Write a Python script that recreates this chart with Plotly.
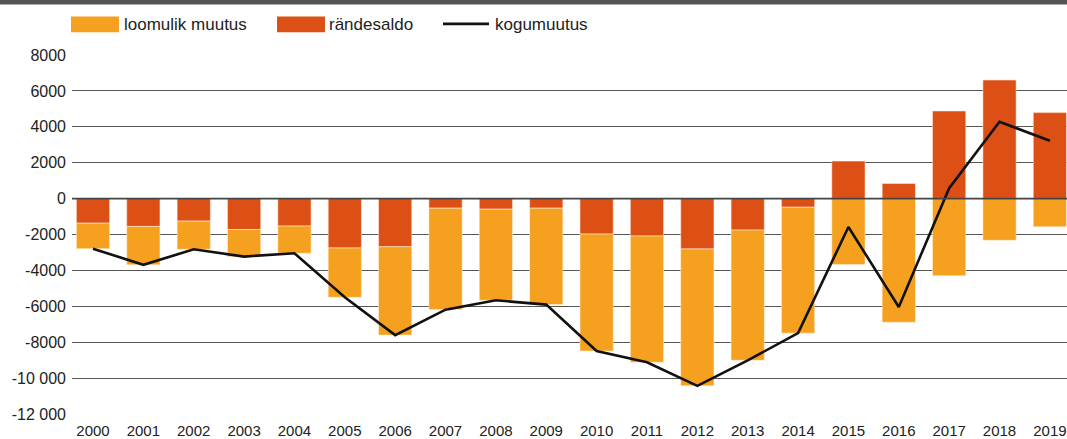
import plotly.graph_objects as go

years = [str(y) for y in range(2000, 2020)]
randesaldo = [-1370, -1550, -1255, -1720, -1530, -2750, -2680, -535, -590, -535,
              -1975, -2085, -2805, -1755, -480, 2090, 845, 4880, 6605, 4790]
loomulik = [-1420, -2140, -1570, -1510, -1515, -2750, -4925, -5650, -5075, -5370,
            -6515, -7035, -7625, -7255, -7015, -3675, -6885, -4300, -2325, -1570]
kogumuutus = [-2790, -3690, -2825, -3230, -3045, -5500, -7605, -6185, -5665, -5905,
              -8490, -9120, -10430, -9010, -7495, -1580, -6040, 580, 4280, 3220]

y_tickvals = [8000, 6000, 4000, 2000, 0, -2000, -4000, -6000, -8000, -10000, -12000]
y_ticktext = ["8000", "6000", "4000", "2000", "0", "-2000", "-4000", "-6000", "-8000", "-10 000", "-12 000"]

series_names = ["loomulik muutus", "rändesaldo", "kogumuutus"]
ORANGE = "#F5A01F"
RED = "#DC5015"
TEXT = "#222222"
FONT = "Liberation Sans, Arial, sans-serif"

W, H = 1067, 439
ML, MR, MT, MB = 72, 0, 55, 21
PW, PH = W - ML - MR, H - MT - MB


def px(x):
    return (x - ML) / PW


def py(y):
    return (H - MB - y) / PH


fig = go.Figure()
fig.add_trace(go.Bar(x=years, y=randesaldo, name=series_names[1], marker_color=RED,
                     marker_line=dict(width=0.8, color="rgba(255,235,225,0.7)"), showlegend=False))
fig.add_trace(go.Bar(x=years, y=loomulik, name=series_names[0], marker_color=ORANGE,
                     marker_line=dict(width=0.8, color="rgba(255,240,220,0.7)"), showlegend=False))
fig.add_trace(go.Scatter(x=years, y=kogumuutus, name=series_names[2], mode="lines",
                         line=dict(color="#111111", width=2.6), showlegend=False))

shapes = [
    # top dark band
    dict(type="rect", xref="paper", yref="paper", x0=px(-2), x1=px(W + 2), y0=py(4), y1=py(-2),
         fillcolor="#555555", line_width=0, layer="above"),
    # zero line over bars
    dict(type="line", xref="paper", yref="y", x0=0, x1=1, y0=0, y1=0,
         line=dict(color="#444444", width=1.6), layer="above"),
    # legend swatches
    dict(type="rect", xref="paper", yref="paper", x0=px(71), x1=px(119), y0=py(32), y1=py(16),
         fillcolor=ORANGE, line_width=0),
    dict(type="rect", xref="paper", yref="paper", x0=px(277), x1=px(325), y0=py(32), y1=py(16),
         fillcolor=RED, line_width=0),
    dict(type="line", xref="paper", yref="paper", x0=px(443), x1=px(489), y0=py(23.5), y1=py(23.5),
         line=dict(color="#111111", width=2.6)),
]

annotations = []
for name, x in [(series_names[0], 122), (series_names[1], 327), (series_names[2], 493)]:
    annotations.append(dict(text=name, xref="paper", yref="paper", x=px(x), y=py(24.5),
                            xanchor="left", yanchor="middle", showarrow=False,
                            font=dict(family=FONT, size=17, color=TEXT)))

fig.update_layout(
    width=W, height=H,
    margin=dict(l=ML, r=MR, t=MT, b=MB),
    paper_bgcolor="white", plot_bgcolor="white",
    barmode="relative", bargap=0.34,
    shapes=shapes, annotations=annotations,
    font=dict(family=FONT, color=TEXT),
)
fig.update_xaxes(type="category", range=[-0.417, 19.34], showgrid=False, zeroline=False,
                 showline=False, ticks="", ticklabelstandoff=6,
                 tickfont=dict(family=FONT, size=15, color=TEXT))
fig.update_yaxes(range=[-12000, 8000], tickvals=y_tickvals, ticktext=y_ticktext,
                 showgrid=True, gridcolor="#555555", gridwidth=1.3, zeroline=False,
                 showline=False, ticks="", ticklabelstandoff=5,
                 tickfont=dict(family=FONT, size=16, color=TEXT))

fig.write_html("out.html", config={"displayModeBar": False},
               post_script="document.body.style.margin='0';document.body.style.overflow='hidden';")
